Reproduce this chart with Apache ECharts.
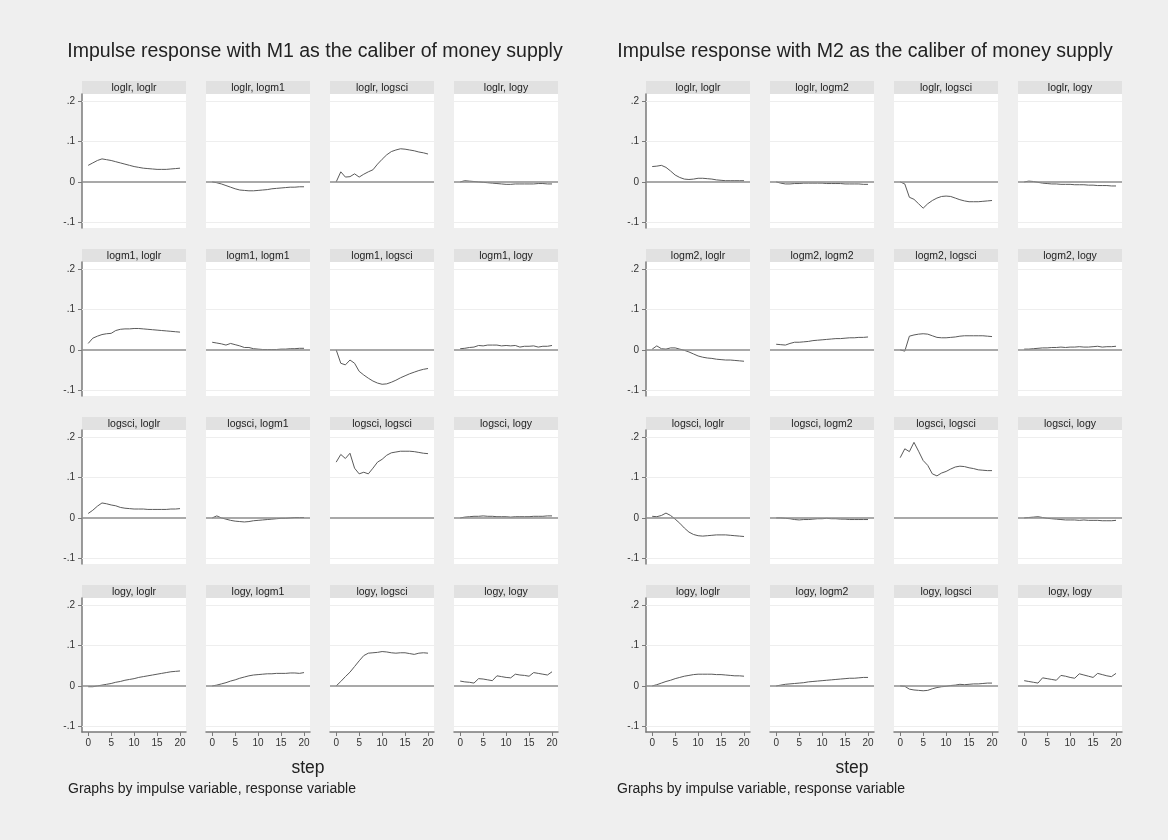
<!DOCTYPE html>
<html>
<head>
<meta charset="utf-8">
<script src="https://cdn.jsdelivr.net/npm/echarts@6/dist/echarts.min.js"></script>
<style>
  html, body { margin: 0; padding: 0; background: #efefef; }
  #main { width: 1168px; height: 840px; }
</style>
</head>
<body>
<div id="main"></div>
<script>
// impulse response grid, two VAR models (M1 / M2)

const stepValues = [0, 1, 2, 3, 4, 5, 6, 7, 8, 9, 10, 11, 12, 13, 14, 15, 16, 17, 18, 19, 20];
const xTicks = [0, 5, 10, 15, 20];
const yTicks = [-0.1, 0, 0.1, 0.2];
const m1Vars = ['loglr', 'logm1', 'logsci', 'logy'];
const m2Vars = ['loglr', 'logm2', 'logsci', 'logy'];
const groupTitles = [
    'Impulse response with M1 as the caliber of money supply',
    'Impulse response with M2 as the caliber of money supply'
];

// --- M1 model: impulse, response ---
const m1_loglr_loglr = [.041, .047, .053, .057, .055, .053, .050, .047, .044, .041, .038, .036, .034, .033, .032, .031, .031, .031, .032, .033, .034];
const m1_loglr_logm1 = [0, -.002, -.005, -.009, -.013, -.017, -.020, -.021, -.022, -.022, -.021, -.020, -.019, -.017, -.016, -.015, -.014, -.013, -.013, -.012, -.012];
const m1_loglr_logsci = [0, .025, .012, .013, .020, .012, .019, .025, .030, .044, .056, .067, .075, .079, .082, .081, .079, .077, .074, .072, .069];
const m1_loglr_logy = [0, .003, .002, .001, 0, -.001, -.002, -.003, -.004, -.005, -.006, -.006, -.005, -.005, -.005, -.005, -.005, -.004, -.004, -.005, -.005];

const m1_logm1_loglr = [.016, .029, .034, .038, .040, .041, .048, .051, .052, .052, .053, .053, .052, .051, .050, .049, .048, .047, .046, .045, .044];
const m1_logm1_logm1 = [.019, .017, .015, .012, .016, .013, .010, .006, .006, .003, .002, .001, .001, .001, .001, .002, .002, .003, .003, .004, .004];
const m1_logm1_logsci = [0, -.033, -.037, -.025, -.033, -.053, -.062, -.070, -.077, -.082, -.085, -.084, -.080, -.075, -.069, -.064, -.059, -.055, -.051, -.048, -.046];
const m1_logm1_logy = [.003, .004, .006, .007, .011, .010, .012, .012, .012, .010, .011, .010, .011, .007, .009, .009, .010, .007, .009, .009, .011];

const m1_logsci_loglr = [.011, .019, .029, .037, .035, .032, .030, .026, .024, .023, .022, .022, .022, .021, .021, .021, .021, .021, .022, .022, .023];
const m1_logsci_logm1 = [0, .005, 0, -.003, -.006, -.008, -.009, -.010, -.009, -.007, -.006, -.005, -.004, -.003, -.002, -.001, -.001, 0, .001, .001, .001];
const m1_logsci_logsci = [.138, .157, .147, .160, .123, .109, .113, .109, .123, .138, .145, .155, .161, .163, .165, .165, .165, .164, .162, .160, .159];
const m1_logsci_logy = [0, .002, .003, .004, .004, .005, .004, .004, .003, .003, .003, .002, .003, .003, .003, .003, .004, .004, .004, .005, .005];

const m1_logy_loglr = [-.002, -.002, 0, .002, .004, .006, .009, .011, .014, .016, .018, .021, .023, .025, .027, .029, .031, .033, .035, .036, .037];
const m1_logy_logm1 = [0, .002, .005, .008, .012, .015, .019, .022, .025, .027, .028, .029, .030, .030, .031, .031, .031, .032, .032, .031, .033];
const m1_logy_logsci = [0, .011, .023, .034, .048, .062, .075, .081, .082, .083, .085, .084, .082, .081, .082, .082, .080, .078, .081, .082, .081];
const m1_logy_logy = [.012, .010, .009, .007, .018, .017, .015, .013, .025, .023, .021, .020, .029, .027, .026, .024, .033, .031, .029, .027, .035];

// --- M2 model: impulse, response ---
const m2_loglr_loglr = [.038, .039, .041, .036, .027, .017, .011, .007, .006, .007, .009, .009, .008, .007, .005, .004, .003, .003, .003, .003, .003];
const m2_loglr_logm2 = [0, -.003, -.005, -.005, -.004, -.004, -.003, -.003, -.003, -.003, -.003, -.004, -.004, -.004, -.004, -.005, -.005, -.005, -.005, -.006, -.006];
const m2_loglr_logsci = [0, -.005, -.038, -.043, -.054, -.065, -.054, -.046, -.040, -.036, -.035, -.036, -.040, -.044, -.047, -.049, -.049, -.049, -.048, -.047, -.046];
const m2_loglr_logy = [0, .002, .001, -.001, -.003, -.004, -.005, -.005, -.006, -.006, -.006, -.007, -.007, -.007, -.008, -.008, -.009, -.009, -.009, -.010, -.010];

const m2_logm2_loglr = [.002, .010, .003, .002, .005, .005, .002, -.001, -.005, -.010, -.015, -.018, -.020, -.021, -.023, -.024, -.025, -.025, -.026, -.027, -.028];
const m2_logm2_logm2 = [.014, .013, .012, .016, .019, .019, .020, .021, .023, .024, .025, .026, .027, .028, .028, .029, .030, .030, .031, .031, .032];
const m2_logm2_logsci = [0, -.003, .034, .037, .039, .040, .039, .035, .031, .030, .030, .031, .032, .034, .035, .035, .035, .035, .035, .034, .033];
const m2_logm2_logy = [.002, .002, .003, .004, .005, .005, .006, .006, .007, .006, .007, .007, .008, .007, .007, .008, .009, .007, .008, .008, .009];

const m2_logsci_loglr = [.004, .003, .006, .012, .006, -.003, -.013, -.025, -.035, -.041, -.044, -.045, -.044, -.043, -.042, -.042, -.042, -.043, -.044, -.045, -.046];
const m2_logsci_logm2 = [0, 0, -.001, -.002, -.004, -.005, -.004, -.004, -.003, -.002, -.002, -.001, -.002, -.002, -.003, -.003, -.004, -.004, -.004, -.004, -.004];
const m2_logsci_logsci = [.149, .171, .164, .187, .165, .142, .130, .109, .104, .111, .115, .121, .126, .128, .127, .124, .122, .119, .118, .117, .117];
const m2_logsci_logy = [0, .001, .002, .003, .001, -.001, -.002, -.003, -.004, -.005, -.005, -.005, -.006, -.005, -.006, -.006, -.006, -.007, -.007, -.007, -.006];

const m2_logy_loglr = [0, .003, .007, .011, .014, .018, .021, .024, .026, .028, .029, .029, .029, .029, .028, .028, .027, .026, .025, .025, .024];
const m2_logy_logm2 = [0, .002, .004, .005, .006, .007, .008, .010, .011, .012, .013, .014, .015, .016, .017, .018, .019, .019, .020, .021, .021];
const m2_logy_logsci = [0, -.001, -.008, -.010, -.011, -.012, -.011, -.007, -.004, -.002, -.001, .001, .002, .004, .003, .004, .005, .005, .006, .007, .007];
const m2_logy_logy = [.013, .011, .009, .007, .020, .018, .016, .014, .026, .024, .021, .019, .030, .027, .024, .021, .031, .028, .025, .023, .031];

const m1Panels = [
    [m1_loglr_loglr, m1_loglr_logm1, m1_loglr_logsci, m1_loglr_logy],
    [m1_logm1_loglr, m1_logm1_logm1, m1_logm1_logsci, m1_logm1_logy],
    [m1_logsci_loglr, m1_logsci_logm1, m1_logsci_logsci, m1_logsci_logy],
    [m1_logy_loglr, m1_logy_logm1, m1_logy_logsci, m1_logy_logy]
];
const m2Panels = [
    [m2_loglr_loglr, m2_loglr_logm2, m2_loglr_logsci, m2_loglr_logy],
    [m2_logm2_loglr, m2_logm2_logm2, m2_logm2_logsci, m2_logm2_logy],
    [m2_logsci_loglr, m2_logsci_logm2, m2_logsci_logsci, m2_logsci_logy],
    [m2_logy_loglr, m2_logy_logm2, m2_logy_logsci, m2_logy_logy]
];

// layout (px)
const FONT = 'Liberation Sans, Arial, sans-serif';
const GROUP_X = [82, 646];
const TITLE_X = [315, 865];
const STEP_X = [308, 852];
const NOTE_X = [68, 617];
const COL_STEP = 124, PANEL_W = 104;
const ROW_TOP0 = 94, ROW_STEP = 168, PANEL_H = 134, HEADER_H = 13;

const grids = [], xAxes = [], yAxes = [], series = [], graphics = [];

function fmtY(v) {
    if (v === 0) return '0';
    let s = String(Math.abs(Math.round(v * 10) / 10)).replace(/^0/, '');
    return (v < 0 ? '-' : '') + s;
}

function addGroup(g, vars, panels) {
    const axisColor = '#7a7a7a';
    for (let r = 0; r < 4; r++) {
        for (let c = 0; c < 4; c++) {
            const idx = grids.length;
            const left = GROUP_X[g] + c * COL_STEP;
            const top = ROW_TOP0 + r * ROW_STEP;
            grids.push({ left: left, top: top, width: PANEL_W, height: PANEL_H,
                show: true, backgroundColor: '#ffffff', borderWidth: 0, containLabel: false });
            const bottomRow = r === 3, firstCol = c === 0;
            xAxes.push({
                gridIndex: idx, type: 'value', min: -1.35, max: 21.3,
                axisLine: { show: bottomRow, onZero: false, lineStyle: { color: axisColor, width: 1.5 } },
                axisTick: { show: bottomRow, customValues: xTicks, length: 4, lineStyle: { color: axisColor } },
                axisLabel: { show: bottomRow, customValues: xTicks, fontSize: 10, color: '#333', margin: 6, fontFamily: FONT },
                splitLine: { show: false }
            });
            yAxes.push({
                gridIndex: idx, type: 'value', min: -0.114, max: 0.2175,
                axisLine: { show: firstCol, onZero: false, lineStyle: { color: axisColor, width: 1.5 } },
                axisTick: { show: firstCol, customValues: yTicks, length: 4, lineStyle: { color: axisColor } },
                axisLabel: { show: firstCol, customValues: yTicks, fontSize: 10, color: '#333', margin: 7,
                    fontFamily: FONT, formatter: fmtY },
                splitLine: { show: false }
            });
            const vals = panels[r][c];
            series.push({
                type: 'line', xAxisIndex: idx, yAxisIndex: idx,
                data: stepValues.map((s, i) => [s, vals[i]]),
                showSymbol: false, silent: true, animation: false,
                lineStyle: { color: '#5a5a5a', width: 1 },
                markLine: {
                    symbol: 'none', silent: true, animation: false, label: { show: false },
                    data: yTicks.map(t => ({
                        yAxis: t,
                        lineStyle: t === 0
                            ? { color: '#8c8c8c', width: 1.6, type: 'solid' }
                            : { color: '#eeeeee', width: 1, type: 'solid' }
                    }))
                }
            });
            // header strip
            graphics.push({ type: 'rect', shape: { x: left, y: top - HEADER_H, width: PANEL_W, height: HEADER_H },
                style: { fill: '#e1e1e1' }, silent: true });
            graphics.push({ type: 'text', x: left + PANEL_W / 2, y: top - HEADER_H / 2 + 0.5, silent: true,
                style: { text: vars[r] + ', ' + vars[c], align: 'center', verticalAlign: 'middle',
                    fontSize: 10.5, fontFamily: FONT, fill: '#222' } });
        }
    }
    graphics.push({ type: 'text', x: TITLE_X[g], y: 52, silent: true,
        style: { text: groupTitles[g], align: 'center', verticalAlign: 'middle', fontSize: 19.5, fontFamily: FONT, fill: '#222' } });
    graphics.push({ type: 'text', x: STEP_X[g], y: 768, silent: true,
        style: { text: 'step', align: 'center', verticalAlign: 'middle', fontSize: 17.5, fontFamily: FONT, fill: '#222' } });
    graphics.push({ type: 'text', x: NOTE_X[g], y: 789, silent: true,
        style: { text: 'Graphs by impulse variable, response variable', align: 'left', verticalAlign: 'middle',
            fontSize: 14, fontFamily: FONT, fill: '#222' } });
}

addGroup(0, m1Vars, m1Panels);
addGroup(1, m2Vars, m2Panels);

const chart = echarts.init(document.getElementById('main'));
chart.setOption({
    backgroundColor: '#efefef',
    animation: false,
    grid: grids,
    xAxis: xAxes,
    yAxis: yAxes,
    series: series,
    graphic: graphics
});
</script>
</body>
</html>
